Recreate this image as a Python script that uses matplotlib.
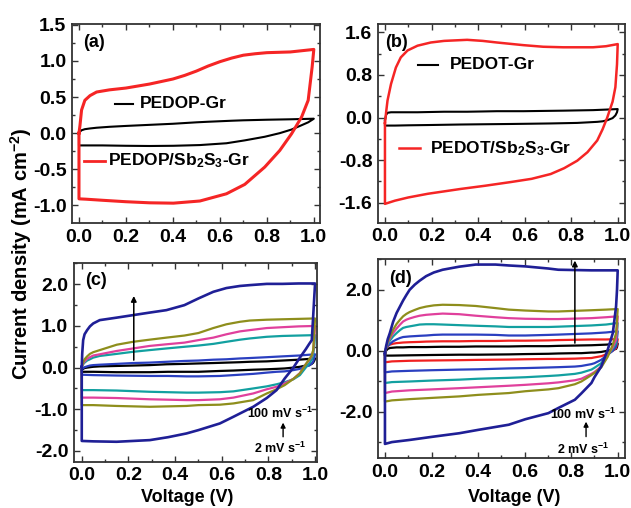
import matplotlib
matplotlib.use('Agg')
import matplotlib.pyplot as plt
from matplotlib.ticker import MultipleLocator, FormatStrFormatter

plt.rcParams['font.family'] = ['Liberation Sans', 'DejaVu Sans']
plt.rcParams['font.weight'] = 'bold'
plt.rcParams['mathtext.fontset'] = 'custom'
plt.rcParams['mathtext.rm'] = 'Liberation Sans:bold'
plt.rcParams['mathtext.bf'] = 'Liberation Sans:bold'
plt.rcParams['mathtext.default'] = 'bf'

# ---------------- panel (a) ----------------
v_fwd_a = [0.0, 0.004, 0.011, 0.025, 0.047, 0.075, 0.13, 0.2, 0.3, 0.4, 0.45, 0.5, 0.55, 0.6, 0.65, 0.7, 0.75, 0.8, 0.9, 1.0]
v_rev_a = [1.0, 0.993, 0.976, 0.948, 0.905, 0.855, 0.791, 0.706, 0.628, 0.515, 0.402, 0.3, 0.2, 0.1, 0.03, 0.0]
pedop_fwd = [0.0, 0.02, 0.04, 0.055, 0.065, 0.075, 0.088, 0.1, 0.115, 0.13, 0.14, 0.15, 0.158, 0.165, 0.172, 0.178, 0.182, 0.186, 0.192, 0.2]
pedop_rev = [0.2, 0.185, 0.15, 0.11, 0.05, 0.0, -0.05, -0.1, -0.14, -0.165, -0.175, -0.178, -0.175, -0.17, -0.17, -0.17]
pedop_sb_fwd = [0.0, 0.1, 0.32, 0.455, 0.52, 0.57, 0.6, 0.625, 0.68, 0.75, 0.8, 0.86, 0.93, 0.99, 1.04, 1.08, 1.1, 1.115, 1.125, 1.16]
pedop_sb_rev = [1.16, 0.92, 0.455, 0.224, -0.01, -0.24, -0.47, -0.71, -0.84, -0.94, -0.97, -0.965, -0.95, -0.93, -0.915, -0.91]

# ---------------- panel (b) ----------------
v_fwd_b = [0.0, 0.005, 0.011, 0.026, 0.047, 0.068, 0.097, 0.14, 0.197, 0.254, 0.353, 0.42, 0.481, 0.595, 0.68, 0.766, 0.894, 0.95, 1.0]
v_rev_b = [1.0, 0.997, 0.99, 0.978, 0.955, 0.935, 0.912, 0.87, 0.826, 0.77, 0.712, 0.63, 0.541, 0.43, 0.325, 0.185, 0.1, 0.043, 0.0]
pedot_fwd = [-0.05, 0.05, 0.09, 0.1, 0.1, 0.1, 0.1, 0.1, 0.105, 0.11, 0.11, 0.115, 0.12, 0.12, 0.125, 0.13, 0.14, 0.15, 0.16]
pedot_rev = [0.16, 0.1, 0.04, -0.01, -0.05, -0.07, -0.08, -0.09, -0.1, -0.105, -0.11, -0.115, -0.12, -0.125, -0.13, -0.14, -0.145, -0.15, -0.15]
pedot_sb_fwd = [-0.1, 0.1, 0.32, 0.63, 0.94, 1.13, 1.26, 1.35, 1.41, 1.44, 1.46, 1.44, 1.41, 1.36, 1.33, 1.32, 1.32, 1.34, 1.38]
pedot_sb_rev = [1.38, 1.0, 0.57, 0.3, 0.0, -0.22, -0.43, -0.65, -0.81, -0.95, -1.06, -1.15, -1.21, -1.28, -1.34, -1.43, -1.5, -1.56, -1.62]

# ---------------- panel (c): scan rates 2 -> 100 mV/s ----------------
v_fwd_c = [0.0, 0.002, 0.006, 0.012, 0.023, 0.035, 0.049, 0.077, 0.15, 0.22, 0.29, 0.363, 0.44, 0.5, 0.564, 0.62, 0.678, 0.72, 0.793, 0.86, 0.93, 1.0]
v_rev_c = [1.0, 0.997, 0.992, 0.986, 0.975, 0.96, 0.935, 0.907, 0.87, 0.835, 0.793, 0.735, 0.65, 0.592, 0.5, 0.449, 0.37, 0.292, 0.149, 0.05, 0.0]
c_fwd = [
    [-0.05, -0.04, -0.03, -0.01, 0.0, 0.01, 0.02, 0.03, 0.04, 0.05, 0.06, 0.08, 0.09, 0.1, 0.11, 0.12, 0.13, 0.14, 0.15, 0.17, 0.19, 0.22],
    [-0.05, -0.03, -0.01, 0.01, 0.03, 0.05, 0.06, 0.07, 0.09, 0.11, 0.12, 0.14, 0.16, 0.17, 0.19, 0.2, 0.22, 0.23, 0.25, 0.27, 0.29, 0.32],
    [0.0, 0.04, 0.08, 0.12, 0.17, 0.2, 0.24, 0.28, 0.33, 0.38, 0.42, 0.46, 0.5, 0.53, 0.57, 0.62, 0.67, 0.7, 0.74, 0.76, 0.77, 0.78],
    [0.0, 0.05, 0.1, 0.15, 0.21, 0.25, 0.29, 0.32, 0.4, 0.46, 0.52, 0.56, 0.6, 0.66, 0.72, 0.8, 0.87, 0.9, 0.95, 0.97, 0.99, 1.0],
    [0.0, 0.06, 0.12, 0.2, 0.27, 0.33, 0.37, 0.42, 0.55, 0.62, 0.67, 0.72, 0.77, 0.83, 0.95, 1.04, 1.1, 1.13, 1.15, 1.16, 1.17, 1.18],
    [0.02, 0.34, 0.66, 0.8, 0.9, 0.99, 1.06, 1.14, 1.2, 1.26, 1.32, 1.38, 1.5, 1.66, 1.82, 1.91, 1.96, 1.98, 2.01, 2.01, 2.02, 2.02],
]
c_rev = [
    [0.22, 0.17, 0.12, 0.09, 0.06, 0.05, 0.02, 0.0, -0.02, -0.03, -0.04, -0.05, -0.07, -0.08, -0.1, -0.1, -0.1, -0.11, -0.11, -0.1, -0.1],
    [0.32, 0.25, 0.15, 0.1, 0.05, 0.03, -0.03, -0.06, -0.09, -0.1, -0.12, -0.15, -0.18, -0.2, -0.21, -0.21, -0.2, -0.2, -0.19, -0.18, -0.17],
    [0.78, 0.55, 0.3, 0.2, 0.1, 0.0, -0.18, -0.28, -0.35, -0.4, -0.45, -0.5, -0.57, -0.59, -0.6, -0.6, -0.59, -0.58, -0.55, -0.54, -0.54],
    [1.0, 0.75, 0.4, 0.28, 0.18, 0.08, -0.13, -0.27, -0.38, -0.46, -0.52, -0.62, -0.72, -0.76, -0.78, -0.78, -0.77, -0.76, -0.73, -0.72, -0.72],
    [1.18, 0.9, 0.42, 0.3, 0.2, 0.08, -0.14, -0.27, -0.42, -0.52, -0.62, -0.78, -0.86, -0.89, -0.9, -0.92, -0.93, -0.94, -0.92, -0.9, -0.9],
    [2.02, 1.73, 1.24, 0.66, 0.57, 0.44, 0.24, 0.0, -0.26, -0.54, -0.73, -0.94, -1.18, -1.34, -1.5, -1.58, -1.67, -1.74, -1.78, -1.77, -1.76],
]
c_colors = ['#000000', '#2a3fc0', '#12a0a0', '#e0409c', '#8e8e1c', '#1f1f96']

# ---------------- panel (d): scan rates 2 -> 100 mV/s ----------------
v_fwd_d = [0.0, 0.005, 0.012, 0.021, 0.035, 0.05, 0.065, 0.078, 0.092, 0.106, 0.128, 0.149, 0.177, 0.21, 0.248, 0.319, 0.39, 0.475, 0.532, 0.603, 0.702, 0.745, 0.887, 0.95, 1.0]
v_rev_d = [1.0, 0.997, 0.993, 0.979, 0.957, 0.929, 0.9, 0.887, 0.844, 0.816, 0.745, 0.702, 0.603, 0.532, 0.4, 0.319, 0.2, 0.106, 0.03, 0.0]
d_fwd = [
    [-0.13, 0.0, 0.06, 0.09, 0.1, 0.11, 0.11, 0.11, 0.115, 0.12, 0.12, 0.12, 0.12, 0.125, 0.13, 0.13, 0.14, 0.14, 0.14, 0.15, 0.15, 0.16, 0.18, 0.2, 0.23],
    [-0.1, 0.08, 0.15, 0.2, 0.23, 0.25, 0.26, 0.27, 0.275, 0.28, 0.285, 0.29, 0.3, 0.305, 0.31, 0.31, 0.32, 0.32, 0.33, 0.33, 0.34, 0.35, 0.37, 0.37, 0.38],
    [-0.1, 0.08, 0.16, 0.22, 0.31, 0.37, 0.42, 0.45, 0.46, 0.47, 0.48, 0.49, 0.5, 0.52, 0.53, 0.53, 0.53, 0.52, 0.5, 0.5, 0.52, 0.53, 0.57, 0.6, 0.64],
    [-0.1, 0.1, 0.22, 0.33, 0.47, 0.58, 0.68, 0.75, 0.78, 0.8, 0.83, 0.86, 0.87, 0.87, 0.86, 0.84, 0.82, 0.8, 0.78, 0.78, 0.78, 0.79, 0.83, 0.86, 0.91],
    [-0.1, 0.1, 0.27, 0.4, 0.58, 0.73, 0.86, 0.96, 1.02, 1.06, 1.11, 1.15, 1.18, 1.2, 1.22, 1.2, 1.15, 1.1, 1.07, 1.05, 1.04, 1.04, 1.07, 1.1, 1.13],
    [-0.13, 0.1, 0.3, 0.45, 0.69, 0.88, 1.02, 1.13, 1.21, 1.27, 1.34, 1.4, 1.45, 1.49, 1.51, 1.5, 1.47, 1.4, 1.35, 1.32, 1.29, 1.29, 1.33, 1.35, 1.37],
    [-0.08, 0.15, 0.38, 0.58, 0.95, 1.24, 1.46, 1.65, 1.83, 2.0, 2.17, 2.3, 2.45, 2.57, 2.66, 2.76, 2.83, 2.83, 2.8, 2.77, 2.7, 2.66, 2.64, 2.64, 2.64],
]
d_rev = [
    [0.23, 0.12, 0.06, 0.03, 0.0, -0.04, -0.06, -0.06, -0.08, -0.08, -0.09, -0.1, -0.11, -0.12, -0.13, -0.13, -0.14, -0.15, -0.16, -0.16],
    [0.38, 0.22, 0.09, 0.0, -0.1, -0.18, -0.22, -0.24, -0.25, -0.26, -0.27, -0.27, -0.28, -0.29, -0.3, -0.31, -0.32, -0.33, -0.35, -0.38],
    [0.64, 0.4, 0.14, 0.0, -0.13, -0.3, -0.41, -0.44, -0.5, -0.52, -0.54, -0.55, -0.57, -0.58, -0.61, -0.62, -0.64, -0.66, -0.68, -0.71],
    [0.91, 0.6, 0.25, 0.07, -0.15, -0.41, -0.56, -0.62, -0.72, -0.76, -0.81, -0.83, -0.87, -0.89, -0.92, -0.95, -0.98, -1.01, -1.03, -1.06],
    [1.13, 0.75, 0.36, 0.12, -0.15, -0.52, -0.7, -0.76, -0.92, -0.97, -1.04, -1.07, -1.12, -1.15, -1.2, -1.23, -1.27, -1.3, -1.34, -1.39],
    [1.37, 1.0, 0.58, 0.2, -0.2, -0.55, -0.73, -0.8, -1.01, -1.1, -1.23, -1.27, -1.33, -1.39, -1.45, -1.5, -1.55, -1.59, -1.63, -1.67],
    [2.64, 2.0, 1.46, 0.58, 0.03, -0.52, -0.87, -1.06, -1.4, -1.61, -1.88, -2.05, -2.25, -2.43, -2.6, -2.71, -2.83, -2.93, -3.0, -3.06],
]
d_colors = ['#000000', '#f02020', '#2a3fc0', '#12a0a0', '#e0409c', '#8e8e1c', '#1f1f96']

RED = '#f52525'
NAVY = '#1f1f96'


def cv(ax, v_f, i_f, v_r, i_r, color, lw=1.6):
    # forward sweep, reverse sweep, then close the loop at 0 V
    v = list(v_f) + list(v_r) + [v_f[0]]
    i = list(i_f) + list(i_r) + [i_f[0]]
    ax.plot(v, i, color=color, lw=lw, solid_joinstyle='round')


def arrow(ax, x, y0, y1, lw=1.1, ms=8):
    ax.annotate('', xy=(x, y1), xytext=(x, y0),
                arrowprops=dict(arrowstyle='-|>', color='black', lw=lw,
                                mutation_scale=ms, shrinkA=0, shrinkB=0))


def style(ax, xlim, ylim, ymaj, ymin):
    ax.set_xlim(*xlim)
    ax.set_ylim(*ylim)
    ax.xaxis.set_major_locator(MultipleLocator(0.2))
    ax.xaxis.set_minor_locator(MultipleLocator(0.1))
    ax.yaxis.set_major_locator(MultipleLocator(ymaj))
    ax.yaxis.set_minor_locator(MultipleLocator(ymin))
    ax.xaxis.set_major_formatter(FormatStrFormatter('%.1f'))
    ax.yaxis.set_major_formatter(FormatStrFormatter('%.1f'))
    ax.tick_params(which='both', direction='in', top=True, right=True,
                   width=1.0, color='#333333')
    ax.tick_params(which='major', length=4, labelsize=14, pad=4)
    ax.tick_params(which='minor', length=2.5)
    for lab in ax.get_xticklabels() + ax.get_yticklabels():
        lab.set_fontweight('bold')
    for s in ax.spines.values():
        s.set_linewidth(1.3)
        s.set_color('#333333')


fig = plt.figure(figsize=(6.31, 5.08), dpi=100)

# (a)
ax = fig.add_axes([0.114, 0.561, 0.393, 0.392])
cv(ax, v_fwd_a, pedop_fwd, v_rev_a, pedop_rev, 'black', lw=1.5)
cv(ax, v_fwd_a, pedop_sb_fwd, v_rev_a, pedop_sb_rev, RED, lw=2.2)
style(ax, (-0.03, 1.026), (-1.245, 1.514), 0.5, 0.25)
ax.text(0.044, 0.905, '(a)', transform=ax.transAxes, fontsize=13, fontweight='bold', va='center')
ax.plot([0.173, 0.246], [0.598, 0.598], transform=ax.transAxes, color='black', lw=1.5)
ax.text(0.274, 0.598, 'PEDOP-Gr', transform=ax.transAxes, fontsize=12.5, fontweight='bold', va='center')
ax.plot([0.048, 0.133], [0.312, 0.312], transform=ax.transAxes, color=RED, lw=2)
ax.text(0.145, 0.312, r'PEDOP/Sb$_2$S$_3$-Gr', transform=ax.transAxes, fontsize=12.5,
        fontweight='bold', va='center')

# (b)
ax = fig.add_axes([0.599, 0.562, 0.391, 0.390])
cv(ax, v_fwd_b, pedot_fwd, v_rev_b, pedot_rev, 'black', lw=1.5)
cv(ax, v_fwd_b, pedot_sb_fwd, v_rev_b, pedot_sb_rev, RED, lw=1.8)
style(ax, (-0.03, 1.03), (-1.97, 1.75), 0.8, 0.4)
ax.text(0.03, 0.91, '(b)', transform=ax.transAxes, fontsize=13, fontweight='bold', va='center')
ax.plot([0.163, 0.245], [0.795, 0.795], transform=ax.transAxes, color='black', lw=1.5)
ax.text(0.29, 0.795, 'PEDOT-Gr', transform=ax.transAxes, fontsize=12.5, fontweight='bold', va='center')
ax.plot([0.087, 0.172], [0.375, 0.375], transform=ax.transAxes, color=RED, lw=1.8)
ax.text(0.212, 0.375, r'PEDOT/Sb$_2$S$_3$-Gr', transform=ax.transAxes, fontsize=12.5,
        fontweight='bold', va='center')

# (c)
ax = fig.add_axes([0.117, 0.091, 0.386, 0.392])
for f, r, col in zip(c_fwd, c_rev, c_colors):
    cv(ax, v_fwd_c, f, v_rev_c, r, col, lw=1.9 if col == NAVY else 1.6)
style(ax, (-0.034, 1.01), (-2.26, 2.52), 1.0, 0.5)
ax.text(0.045, 0.91, '(c)', transform=ax.transAxes, fontsize=13, fontweight='bold', va='center')
arrow(ax, 0.223, 0.18, 1.72)
ax.text(0.85, -1.1, r'100 mV s$^{-1}$', fontsize=9, fontweight='bold', ha='center', va='center')
arrow(ax, 0.863, -1.66, -1.32, lw=1.0, ms=7)
ax.text(0.85, -1.94, r'2 mV s$^{-1}$', fontsize=9, fontweight='bold', ha='center', va='center')

# (d)
ax = fig.add_axes([0.599, 0.098, 0.391, 0.392])
for f, r, col in zip(d_fwd, d_rev, d_colors):
    cv(ax, v_fwd_d, f, v_rev_d, r, col, lw=1.9 if col == NAVY else 1.6)
style(ax, (-0.03, 1.03), (-3.53, 3.01), 2.0, 1.0)
ax.text(0.045, 0.9, '(d)', transform=ax.transAxes, fontsize=13, fontweight='bold', va='center')
arrow(ax, 0.816, 0.25, 2.96)
ax.text(0.852, -2.1, r'100 mV s$^{-1}$', fontsize=9, fontweight='bold', ha='center', va='center')
arrow(ax, 0.864, -2.82, -2.33, lw=1.0, ms=7)
ax.text(0.852, -3.23, r'2 mV s$^{-1}$', fontsize=9, fontweight='bold', ha='center', va='center')

# shared labels
fig.text(0.033, 0.5, r'Current density (mA cm$^{-2}$)', rotation=90, fontsize=14.5,
         fontweight='bold', ha='center', va='center')
fig.text(0.297, 0.02, 'Voltage (V)', fontsize=13, fontweight='bold', ha='center', va='center')
fig.text(0.815, 0.02, 'Voltage (V)', fontsize=13, fontweight='bold', ha='center', va='center')

fig.savefig('out.png', dpi=100)
